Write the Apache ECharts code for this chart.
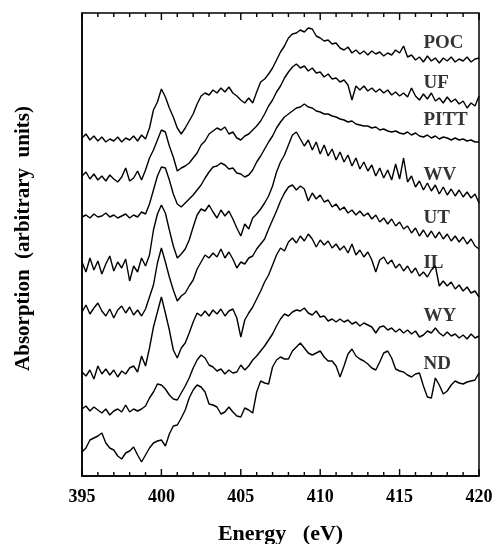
<!DOCTYPE html>
<html><head><meta charset="utf-8">
<script src="https://cdn.jsdelivr.net/npm/echarts@6/dist/echarts.min.js"></script>
<style>html,body{margin:0;padding:0;background:#fff}#c{width:495px;height:544px}</style>
</head><body><div id="c"></div>
<script>
// Sampling grid of photon energy (eV)
const energy = [395,395.25,395.5,395.75,396,396.25,396.5,396.75,397,397.25,
397.5,397.75,398,398.25,398.5,398.75,399,399.25,399.5,399.75,
400,400.25,400.5,400.75,401,401.25,401.5,401.75,402,402.25,
402.5,402.75,403,403.25,403.5,403.75,404,404.25,404.5,404.75,
405,405.25,405.5,405.75,406,406.25,406.5,406.75,407,407.25,
407.5,407.75,408,408.25,408.5,408.75,409,409.25,409.5,409.75,
410,410.25,410.5,410.75,411,411.25,411.5,411.75,412,412.25,
412.5,412.75,413,413.25,413.5,413.75,414,414.25,414.5,414.75,
415,415.25,415.5,415.75,416,416.25,416.5,416.75,417,417.25,
417.5,417.75,418,418.25,418.5,418.75,419,419.25,419.5,419.75,
420];

// Absorption (arbitrary units, offset spectra)
const POC = [338,342,336,340,335,339,334,337,335,339,
334,338,336,340,335,341,337,348,366,374,
387,379,368,359,348,342,348,355,362,372,
380,383,381,386,383,388,384,389,383,380,
376,373,378,373,384,394,397,402,408,416,
424,430,438,442,443,446,444,448,447,440,
438,435,436,432,433,428,426,429,423,426,
422,425,421,425,422,424,420,423,421,426,
423,430,419,421,416,419,414,420,415,418,
413,418,415,419,414,417,415,419,414,417,
418];
const UF = [300,304,297,302,296,300,295,301,297,294,
299,308,295,298,305,296,306,318,326,336,
346,344,330,319,305,308,310,313,318,323,
331,335,342,345,348,346,349,342,344,338,
336,340,342,346,350,355,362,370,376,384,
390,398,404,409,412,408,410,405,408,403,
404,399,402,397,398,394,396,391,376,390,
386,390,385,388,384,387,383,386,381,384,
380,383,379,388,380,376,382,377,383,375,
378,373,379,374,377,372,375,368,373,370,
380];
const PITT = [259,261,258,262,259,260,263,259,261,258,
260,262,258,261,259,264,262,272,286,300,
309,308,296,282,272,269,273,277,281,286,
291,298,304,309,310,313,311,307,308,303,
302,299,301,306,314,320,327,334,340,348,
354,359,362,365,368,369,372,369,368,365,
364,362,362,360,359,357,356,354,355,352,
351,350,350,348,349,346,347,345,344,345,
343,342,344,341,343,340,339,341,338,340,
337,339,338,336,338,336,337,335,336,334,
334];
const WV = [214,204,218,206,215,202,212,220,205,214,
208,217,195,210,204,218,210,221,246,262,
271,263,246,230,218,222,227,236,249,261,
267,265,271,264,258,266,260,265,257,248,
240,252,247,258,262,267,273,280,290,304,
314,321,331,341,344,337,330,336,326,334,
322,331,320,327,316,324,314,321,310,318,
307,314,305,311,300,308,298,306,296,312,
297,318,294,300,289,295,286,293,285,291,
282,289,281,287,280,286,279,284,278,282,
273];
const UT = [164,171,162,168,173,165,160,167,158,166,
170,163,169,161,166,160,167,179,191,213,
228,214,199,186,175,180,183,190,196,207,
214,221,218,223,219,227,218,224,217,208,
214,212,218,220,227,232,237,247,256,265,
275,283,289,291,286,290,287,275,283,277,
281,274,276,269,272,266,269,263,266,261,
265,260,263,257,261,254,258,252,257,250,
254,247,250,243,248,240,246,239,245,238,
244,237,242,235,240,234,239,232,237,230,
227];
const IL = [104,100,106,97,110,102,107,101,106,99,
105,102,108,110,104,120,110,128,149,164,
179,163,146,126,118,128,133,143,154,163,
160,165,160,166,162,167,160,165,167,158,
139,156,163,169,177,185,194,201,211,221,
228,225,234,238,233,240,235,242,237,229,
236,231,235,228,232,226,230,223,232,221,
226,219,224,216,204,216,219,212,216,208,
212,205,210,203,208,200,204,199,206,210,
190,195,190,194,187,191,185,189,183,185,
179];
const WY = [67,70,65,69,66,63,67,61,65,67,
64,71,64,67,65,67,70,78,84,92,
91,87,81,77,76,83,90,98,108,116,
121,118,111,109,105,107,102,106,103,104,
111,106,110,116,120,125,130,136,142,150,
157,162,160,164,166,165,168,163,161,165,
159,160,155,157,154,157,154,156,152,154,
150,153,151,149,143,149,150,146,148,144,
147,143,146,142,145,139,141,145,143,148,
143,140,144,140,142,138,141,137,142,138,
140];
const ND = [24,28,36,38,40,43,33,28,26,20,
17,23,25,29,21,14,21,28,33,35,
36,30,42,50,51,58,66,78,86,91,
89,84,72,71,69,62,64,69,64,60,
59,68,66,63,84,95,93,92,109,116,
119,117,117,125,129,133,128,123,121,123,
125,119,115,115,110,99,110,122,127,120,
117,115,112,108,106,114,123,125,118,107,
105,104,101,99,102,103,90,79,78,98,
91,82,85,91,95,93,92,94,95,96,
103];

const labelNames = ['POC','UF','PITT','WV','UT','IL','WY','ND'];
const labelY = [433, 393, 356, 301, 258, 213, 160, 112];
const labelE = 416.5;

// Tick positions on the energy axis (every 1 eV; labelled every 5 eV)
const tickEnergy = [395,396,397,398,399,400,401,402,403,404,405,406,407,408,409,410,411,412,413,414,415,416,417,418,419,420];
const majorTicks = [395,400,405,410,415,420];

const spectra = [POC, UF, PITT, WV, UT, IL, WY, ND];
const FONT = 'Liberation Serif';
const Y_MAX = 463;
const MAJOR_LEN = 7, MINOR_LEN = 4;   // tick lengths in y-axis units (1 unit = 1 px here)

const chart = echarts.init(document.getElementById('c'), null, {renderer: 'canvas'});

const series = spectra.map((vals, k) => ({
  type: 'line',
  name: labelNames[k],
  data: vals.map((v, i) => [energy[i], v]),
  showSymbol: false,
  lineStyle: {color: '#000', width: 1.4}
}));
series.push({
  type: 'scatter',
  data: labelNames.map((n, k) => [labelE, labelY[k], n]),
  symbolSize: 0,
  label: {
    show: true, position: 'right', distance: 0,
    formatter: p => p.data[2],
    fontFamily: FONT, fontWeight: 'bold', fontSize: 19, color: '#000'
  }
});
// inward tick marks on the bottom and top frame, drawn as broken line segments
const tickSegs = [];
tickEnergy.forEach(e => {
  const len = majorTicks.indexOf(e) >= 0 ? MAJOR_LEN : MINOR_LEN;
  tickSegs.push([e, 0], [e, len], [e, '-']);
  tickSegs.push([e, Y_MAX], [e, Y_MAX - len], [e, '-']);
});
series.push({
  type: 'line',
  name: 'ticks',
  data: tickSegs,
  showSymbol: false,
  connectNulls: false,
  clip: false,
  silent: true,
  lineStyle: {color: '#000', width: 1.4}
});

chart.setOption({
  animation: false,
  grid: {left: 82, right: 16, top: 13, bottom: 68, outerBoundsMode: 'none',
         show: true, borderColor: '#000', borderWidth: 1.5, backgroundColor: 'transparent'},
  xAxis: [{
    type: 'value', position: 'bottom', min: 395, max: 420, interval: 5,
    axisLine: {show: true, onZero: false, lineStyle: {color: '#000', width: 1.5}},
    axisTick: {show: false}, minorTick: {show: false},
    splitLine: {show: false},
    axisLabel: {show: true, margin: 12, fontFamily: FONT, fontWeight: 'bold', fontSize: 18, color: '#000'},
    name: 'Energy   (eV)', nameLocation: 'middle', nameGap: 47,
    nameTextStyle: {fontFamily: FONT, fontWeight: 'bold', fontSize: 22, color: '#000'}
  }],
  yAxis: [{
    type: 'value', position: 'left', min: 0, max: Y_MAX,
    axisLine: {show: true, onZero: false, lineStyle: {color: '#000', width: 1.5}},
    axisTick: {show: false}, axisLabel: {show: false}, splitLine: {show: false},
    name: 'Absorption  (arbitrary  units)', nameLocation: 'middle', nameGap: 48, nameRotate: 90,
    nameTextStyle: {fontFamily: FONT, fontWeight: 'bold', fontSize: 21, color: '#000', padding: [0, 0, 0, 12]}
  }],
  series: series
});
</script>
</body></html>
